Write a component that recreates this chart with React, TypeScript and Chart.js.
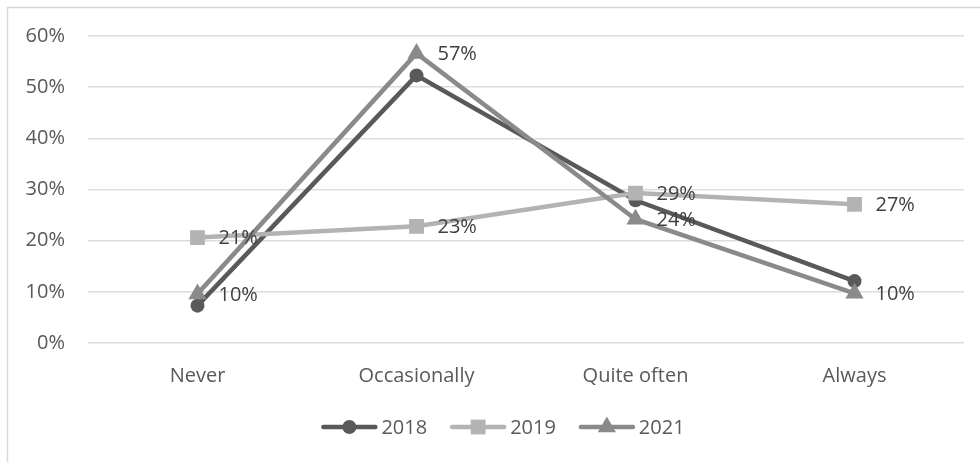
import React, { useEffect, useRef } from "react";
import { Chart, registerables } from "chart.js";

Chart.register(...registerables);

// Survey answers by year, in percent
const categories = ["Never", "Occasionally", "Quite often", "Always"];
const seriesNames = ["2018", "2019", "2021"];
const values2018 = [7.3, 52.3, 27.9, 12.1];
const values2019 = [20.6, 22.8, 29.3, 27.1];
const values2021 = [9.6, 56.6, 24.2, 9.7];
const showValueLabels = [false, true, true];
const yMax = 60;
const yStep = 10;

const seriesColors = ["#595959", "#b3b3b3", "#8a8a8a"];
const pointStyles = ["circle", "rect", "triangle"] as const;
const pointRadii = [7, 10.5, 10.5];

const FONT = "'Open Sans', sans-serif";
const FONT_SIZE = 20;

const frameAndLabels = {
  id: "frameAndLabels",
  afterDatasetsDraw(chart: any) {
    const { ctx } = chart;
    ctx.save();
    // outer chart frame (left and top edges)
    ctx.strokeStyle = "#d9d9d9";
    ctx.lineWidth = 1.5;
    ctx.beginPath();
    ctx.moveTo(7.5, chart.height);
    ctx.lineTo(7.5, 7.5);
    ctx.lineTo(chart.width, 7.5);
    ctx.stroke();

    // value labels to the right of each point
    ctx.font = `${FONT_SIZE}px ${FONT}`;
    ctx.fillStyle = "#404040";
    ctx.textAlign = "left";
    ctx.textBaseline = "middle";
    chart.data.datasets.forEach((ds: any, i: number) => {
      if (!showValueLabels[i]) return;
      const meta = chart.getDatasetMeta(i);
      meta.data.forEach((pt: any, j: number) => {
        ctx.fillText(`${Math.round(ds.data[j])}%`, pt.x + 21, pt.y + 1);
      });
    });
    ctx.restore();
  },
  afterDraw(chart: any) {
    const { ctx } = chart;
    ctx.save();
    ctx.font = `${FONT_SIZE}px ${FONT}`;
    const lineLen = 56;
    const gapText = 4;
    const gapItem = 23;
    const widths = seriesNames.map((n) => lineLen + gapText + ctx.measureText(n).width);
    const total = widths.reduce((a, b) => a + b, 0) + gapItem * (widths.length - 1);
    let x = 503 - total / 2;
    const y = 427;
    seriesNames.forEach((name, i) => {
      ctx.strokeStyle = seriesColors[i];
      ctx.lineWidth = 4.5;
      ctx.lineCap = "round";
      ctx.beginPath();
      ctx.moveTo(x + 2, y);
      ctx.lineTo(x + lineLen - 2, y);
      ctx.stroke();
      ctx.fillStyle = seriesColors[i];
      const cx = x + lineLen / 2;
      const r = pointRadii[i];
      ctx.beginPath();
      if (pointStyles[i] === "circle") {
        ctx.arc(cx, y, r, 0, Math.PI * 2);
      } else if (pointStyles[i] === "rect") {
        const s = r * Math.SQRT1_2;
        ctx.rect(cx - s, y - s, 2 * s, 2 * s);
      } else {
        ctx.moveTo(cx, y - r);
        ctx.lineTo(cx + r * Math.sin((2 * Math.PI) / 3), y + r / 2);
        ctx.lineTo(cx - r * Math.sin((2 * Math.PI) / 3), y + r / 2);
        ctx.closePath();
      }
      ctx.fill();
      ctx.fillStyle = "#595959";
      ctx.textAlign = "left";
      ctx.textBaseline = "middle";
      ctx.fillText(name, x + lineLen + gapText, y + 1);
      x += widths[i] + gapItem;
    });
    ctx.restore();
  },
};

export default function App() {
  const canvasRef = useRef<HTMLCanvasElement | null>(null);

  useEffect(() => {
    document.body.style.margin = "0";
    const canvas = canvasRef.current;
    if (!canvas) return;
    const allValues = [values2018, values2019, values2021];
    const chart = new Chart(canvas, {
      type: "line",
      data: {
        labels: categories,
        datasets: seriesNames.map((name, i) => ({
          label: name,
          data: allValues[i],
          borderColor: seriesColors[i],
          backgroundColor: seriesColors[i],
          pointBackgroundColor: seriesColors[i],
          pointBorderColor: seriesColors[i],
          pointBorderWidth: 0,
          borderWidth: 4.5,
          pointStyle: pointStyles[i],
          pointRadius: pointRadii[i],
          tension: 0,
          order: seriesNames.length - i,
        })),
      },
      plugins: [frameAndLabels],
      options: {
        responsive: false,
        animation: false,
        layout: { padding: { top: 36, right: 16, left: 0, bottom: 0 } },
        plugins: {
          legend: { display: false },
          tooltip: { enabled: false },
        },
        scales: {
          x: {
            offset: true,
            grid: { display: false },
            border: { display: false },
            ticks: {
              color: "#595959",
              font: { family: FONT, size: FONT_SIZE },
              padding: 13,
              maxRotation: 0,
            },
            afterFit: (s: any) => {
              s.height = 119;
            },
          },
          y: {
            min: 0,
            max: yMax,
            grid: { color: "#dcdcdc", lineWidth: 1.5, drawTicks: false },
            border: { display: false },
            ticks: {
              stepSize: yStep,
              color: "#595959",
              font: { family: FONT, size: FONT_SIZE },
              padding: 23,
              callback: (v: any) => `${v}%`,
            },
            afterFit: (s: any) => {
              s.width = 88;
            },
          },
        },
      },
    });
    return () => chart.destroy();
  }, []);

  return (
    <div style={{ width: 980, height: 462, background: "#ffffff" }}>
      <canvas ref={canvasRef} width={980} height={462} />
    </div>
  );
}
